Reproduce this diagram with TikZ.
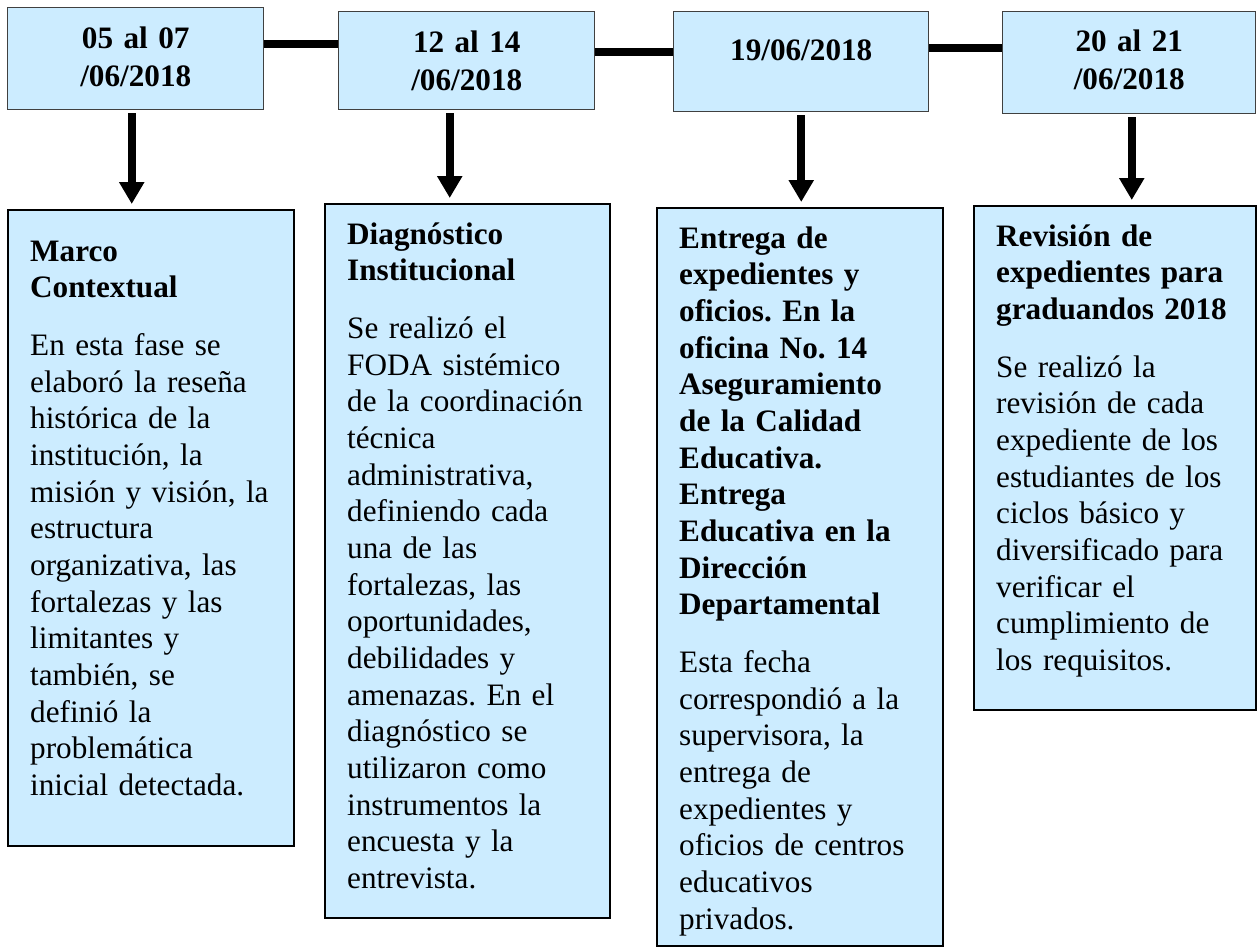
\documentclass[tikz,border=0pt]{standalone}
\usepackage{fontspec}
\setmainfont{Liberation Serif}
\usepackage{tikz}
\usetikzlibrary{arrows.meta}

\definecolor{celeste}{RGB}{204,236,255}
\frenchspacing

\tikzset{
	fecha/.style={draw=black!75, line width=1.1pt, fill=celeste, anchor=north west,
		inner sep=0pt, align=center, font=\bfseries\fontsize{23.4}{28.5}\selectfont},
	actividad/.style={draw=black, line width=1.8pt, fill=celeste, anchor=north west,
		inner xsep=11.25pt, inner ysep=0pt, font=\fontsize{23.4}{27.5}\selectfont,
		execute at begin node={\raggedright\leftskip=5.25pt}},
	enlace/.style={line width=6pt},
	flecha/.style={line width=6pt, -{Triangle[width=18pt,length=16.5pt]},
		shorten <=2.25pt, shorten >=3.75pt}
}

\begin{document}
\begin{tikzpicture}[x=0.75pt,y=-0.75pt]
	\useasboundingbox (0,0) rectangle (1257,947);

	% fechas
	\node[fecha, text width=192pt, text height=30.75pt, text depth=45.75pt] (d1) at (7,7) {05 al 07\\/06/2018} ; %
	\node[fecha, text width=192pt, text height=30.75pt, text depth=42.75pt] (d2) at (338,11) {12 al 14\\/06/2018} ; %
	\node[fecha, text width=191.25pt, text height=36.75pt, text depth=38.25pt] (d3) at (673,11) {19/06/2018} ; %
	\node[fecha, text width=189.75pt, text height=30pt, text depth=46.5pt] (d4) at (1002,11) {20 al 21\\/06/2018} ; %

	% actividades
	\node[actividad, text width=192pt, text height=38.25pt, text depth=438.75pt] (a1) at (7,209) {%
		\textbf{Marco\\Contextual}\\[15.75pt]
		En esta fase se\\elaboró la reseña\\histórica de la\\institución, la\\misión y visión, la\\estructura\\organizativa, las\\fortalezas y las\\limitantes y\\también, se\\definió la\\problemática\\inicial detectada.};
	\node[actividad, text width=191.25pt, text height=30pt, text depth=505.5pt] (a2) at (324,203) {%
		\textbf{Diagnóstico\\Institucional}\\[15.75pt]
		Se realizó el\\FODA sistémico\\de la coordinación\\técnica\\administrativa,\\definiendo cada\\una de las\\fortalezas, las\\oportunidades,\\debilidades y\\amenazas. En el\\diagnóstico se\\utilizaron como\\instrumentos la\\encuesta y la\\entrevista.};
	\node[actividad, text width=192pt, text height=30pt, text depth=523.5pt] (a3) at (656,207) {%
		\textbf{Entrega de\\expedientes y\\oficios. En la\\oficina No. 14\\Aseguramiento\\de la Calidad\\Educativa.\\Entrega\\Educativa en la\\Dirección\\Departamental}\\[15.75pt]
		Esta fecha\\correspondió a la\\supervisora, la\\entrega de\\expedientes y\\oficios de centros\\educativos\\privados.};
	\node[actividad, text width=189pt, text height=30pt, text depth=348pt] (a4) at (973,205) {%
		\textbf{Revisión de\\expedientes para\\graduandos 2018}\\[15.75pt]
		Se realizó la\\revisión de cada\\expediente de los\\estudiantes de los\\ciclos básico y\\diversificado para\\verificar el\\cumplimiento de\\los requisitos.};

	% linea de tiempo
	\draw[enlace] ([yshift=11.25pt]d1.east) -- ([yshift=11.25pt]d1.east -| d2.west) ;
	\draw[enlace] ([yshift=6.75pt]d2.east) -- ([yshift=6.75pt]d2.east -| d3.west) ;
	\draw[enlace] ([yshift=10.5pt]d3.east) -- ([yshift=10.5pt]d3.east -| d4.west) ;

	\draw[flecha] ([xshift=-3pt]d1.south) -- ([xshift=-3pt]d1.south |- a1.north) ;
	\draw[flecha] ([xshift=-12.75pt]d2.south) -- ([xshift=-12.75pt]d2.south |- a2.north) ;
	\draw[flecha] (d3.south) -- (d3.south |- a3.north) ;
	\draw[flecha] ([xshift=1.9pt]d4.south) -- ([xshift=1.9pt]d4.south |- a4.north) ;

\end{tikzpicture}
\end{document}
